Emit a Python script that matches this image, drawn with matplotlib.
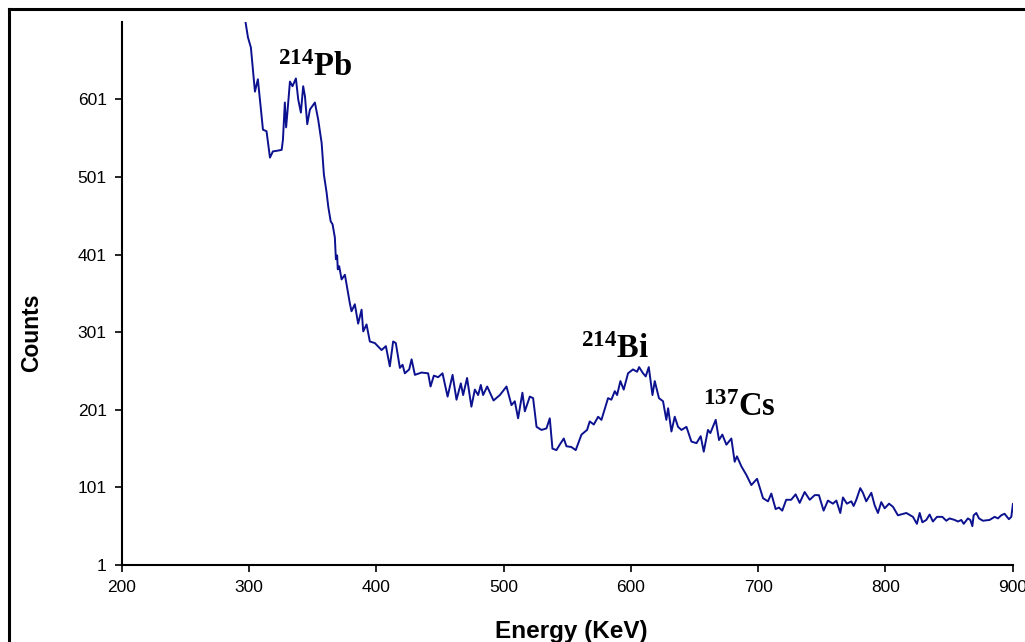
import matplotlib
matplotlib.use("Agg")
import matplotlib.pyplot as plt
from matplotlib.lines import Line2D

# spectrum
energy = [
    296.0, 299.0, 301.3, 304.5, 306.8, 308.4, 310.8, 313.6, 316.3, 318.6,
    322.5, 325.5, 326.5, 328.0, 329.0, 330.0, 332.0, 334.0, 336.7, 338.5,
    340.6, 342.4, 343.8, 345.6, 347.7, 351.6, 354.2, 356.9, 358.7, 360.8,
    362.1, 364.0, 365.5, 367.3, 368.1, 369.1, 369.6, 370.7, 372.6, 375.2,
    377.0, 379.1, 380.4, 383.0, 385.6, 388.3, 389.6, 392.2, 394.8, 398.7,
    404.0, 407.4, 410.5, 413.1, 415.2, 418.4, 420.5, 422.3, 425.7, 427.6,
    430.2, 435.4, 440.6, 442.5, 445.1, 448.5, 451.9, 455.9, 459.8, 462.9,
    466.3, 468.1, 471.2, 474.6, 477.3, 479.9, 482.0, 483.8, 487.0, 492.0,
    497.0, 502.2, 506.1, 508.7, 511.3, 514.7, 516.6, 520.5, 523.1, 525.8,
    529.7, 533.6, 536.2, 538.3, 541.4, 544.0, 547.2, 549.3, 553.2, 556.6,
    561.1, 565.5, 567.6, 570.8, 574.2, 576.8, 582.0, 584.6, 587.3, 589.1,
    591.7, 594.3, 597.7, 601.6, 604.8, 606.4, 609.5, 611.6, 614.0, 616.9,
    618.7, 622.0, 625.2, 627.8, 629.2, 631.8, 634.4, 637.0, 639.7, 643.6,
    647.5, 651.5, 654.8, 657.2, 660.5, 662.4, 666.6, 669.2, 671.8, 675.0,
    678.9, 681.5, 683.3, 686.8, 690.7, 694.6, 699.1, 703.8, 707.7, 710.3,
    713.7, 716.3, 718.9, 722.0, 725.9, 729.4, 732.6, 736.5, 740.5, 744.4,
    747.7, 751.4, 754.8, 758.7, 761.4, 764.5, 766.6, 769.7, 773.2, 775.0,
    777.1, 780.2, 782.3, 784.9, 788.9, 791.5, 794.1, 796.7, 799.4, 802.8,
    805.9, 809.8, 816.4, 821.6, 824.7, 826.9, 829.0, 832.1, 834.7, 837.3,
    840.5, 844.7, 847.8, 850.4, 854.4, 857.0, 859.6, 861.5, 864.8, 866.7,
    868.3, 869.3, 871.4, 873.5, 876.6, 881.8, 885.8, 888.4, 891.0, 893.6,
    897.0, 898.9, 900.2, 901.5,
]
counts = [
    712, 681, 668, 611, 627, 601, 562, 560, 526, 534,
    535, 536, 549, 597, 565, 584, 624, 618, 628, 601,
    584, 618, 605, 569, 588, 597, 575, 545, 504, 481,
    463, 444, 440, 423, 395, 400, 382, 386, 369, 375,
    358, 338, 328, 337, 312, 330, 302, 311, 289, 287,
    278, 283, 257, 289, 287, 255, 259, 248, 253, 266,
    246, 249, 248, 231, 245, 243, 248, 218, 246, 214,
    235, 220, 242, 205, 227, 220, 233, 220, 231, 213,
    220, 231, 207, 212, 190, 223, 199, 218, 216, 179,
    175, 177, 190, 151, 149, 156, 164, 154, 153, 149,
    169, 175, 186, 182, 192, 188, 216, 214, 225, 220,
    238, 227, 248, 253, 250, 256, 248, 244, 256, 220,
    238, 216, 212, 188, 203, 173, 192, 179, 175, 179,
    160, 158, 167, 147, 175, 171, 188, 162, 169, 156,
    164, 134, 141, 128, 117, 104, 112, 87, 83, 93,
    73, 75, 71, 85, 85, 92, 81, 95, 85, 91,
    91, 71, 84, 80, 84, 68, 88, 80, 83, 77,
    85, 100, 94, 83, 94, 78, 68, 82, 74, 80,
    76, 65, 68, 63, 54, 68, 56, 59, 66, 57,
    63, 63, 58, 61, 59, 57, 59, 54, 61, 59,
    51, 65, 68, 61, 58, 59, 63, 61, 65, 67,
    60, 63, 80, 70,
]

xticks = [200, 300, 400, 500, 600, 700, 800, 900]
yticks = [1, 101, 201, 301, 401, 501, 601]

# peak labels: (text, energy, counts) at the label's left/baseline
peaks = [
    (r"$\mathbf{^{214}Pb}$", 322.5, 631),
    (r"$\mathbf{^{214}Bi}$", 561, 268),
    (r"$\mathbf{^{137}Cs}$", 657, 193),
]

plt.rcParams["font.family"] = ["Liberation Sans", "DejaVu Sans"]
plt.rcParams["mathtext.fontset"] = "custom"
plt.rcParams["mathtext.rm"] = "Liberation Serif"
plt.rcParams["mathtext.bf"] = "Liberation Serif:bold"

fig = plt.figure(figsize=(10.25, 6.42), dpi=100)
ax = fig.add_axes([0.119, 0.120, 0.869, 0.846])

ax.plot(energy, counts, color="#0c128f", linewidth=1.4)

ax.set_xlim(200, 900)
ax.set_ylim(1, 701)
ax.set_xticks(xticks)
ax.set_yticks(yticks)
ax.tick_params(labelsize=12.5, width=1.2, length=5, direction="out", pad=6)

for side in ("top", "right"):
    ax.spines[side].set_visible(False)
for side in ("left", "bottom"):
    ax.spines[side].set_linewidth(1.5)

ax.set_xlabel("Energy (KeV)", fontsize=17.5, fontweight="bold")
ax.set_ylabel("Counts", fontsize=16.5, fontweight="bold")
ax.xaxis.set_label_coords(0.504, -0.102)
ax.yaxis.set_label_coords(-0.089, 0.427)

for label, x, y in peaks:
    ax.text(x, y, label, fontsize=23.5, ha="left", va="baseline")

# outer frame of the original figure (cut off right and bottom)
fig.add_artist(Line2D([9 / 1025, 9 / 1025], [0, 1 - 9 / 642],
                      transform=fig.transFigure, color="black", linewidth=2.2))
fig.add_artist(Line2D([9 / 1025, 1], [1 - 9 / 642, 1 - 9 / 642],
                      transform=fig.transFigure, color="black", linewidth=2.2))

fig.savefig("out.png", dpi=100)
